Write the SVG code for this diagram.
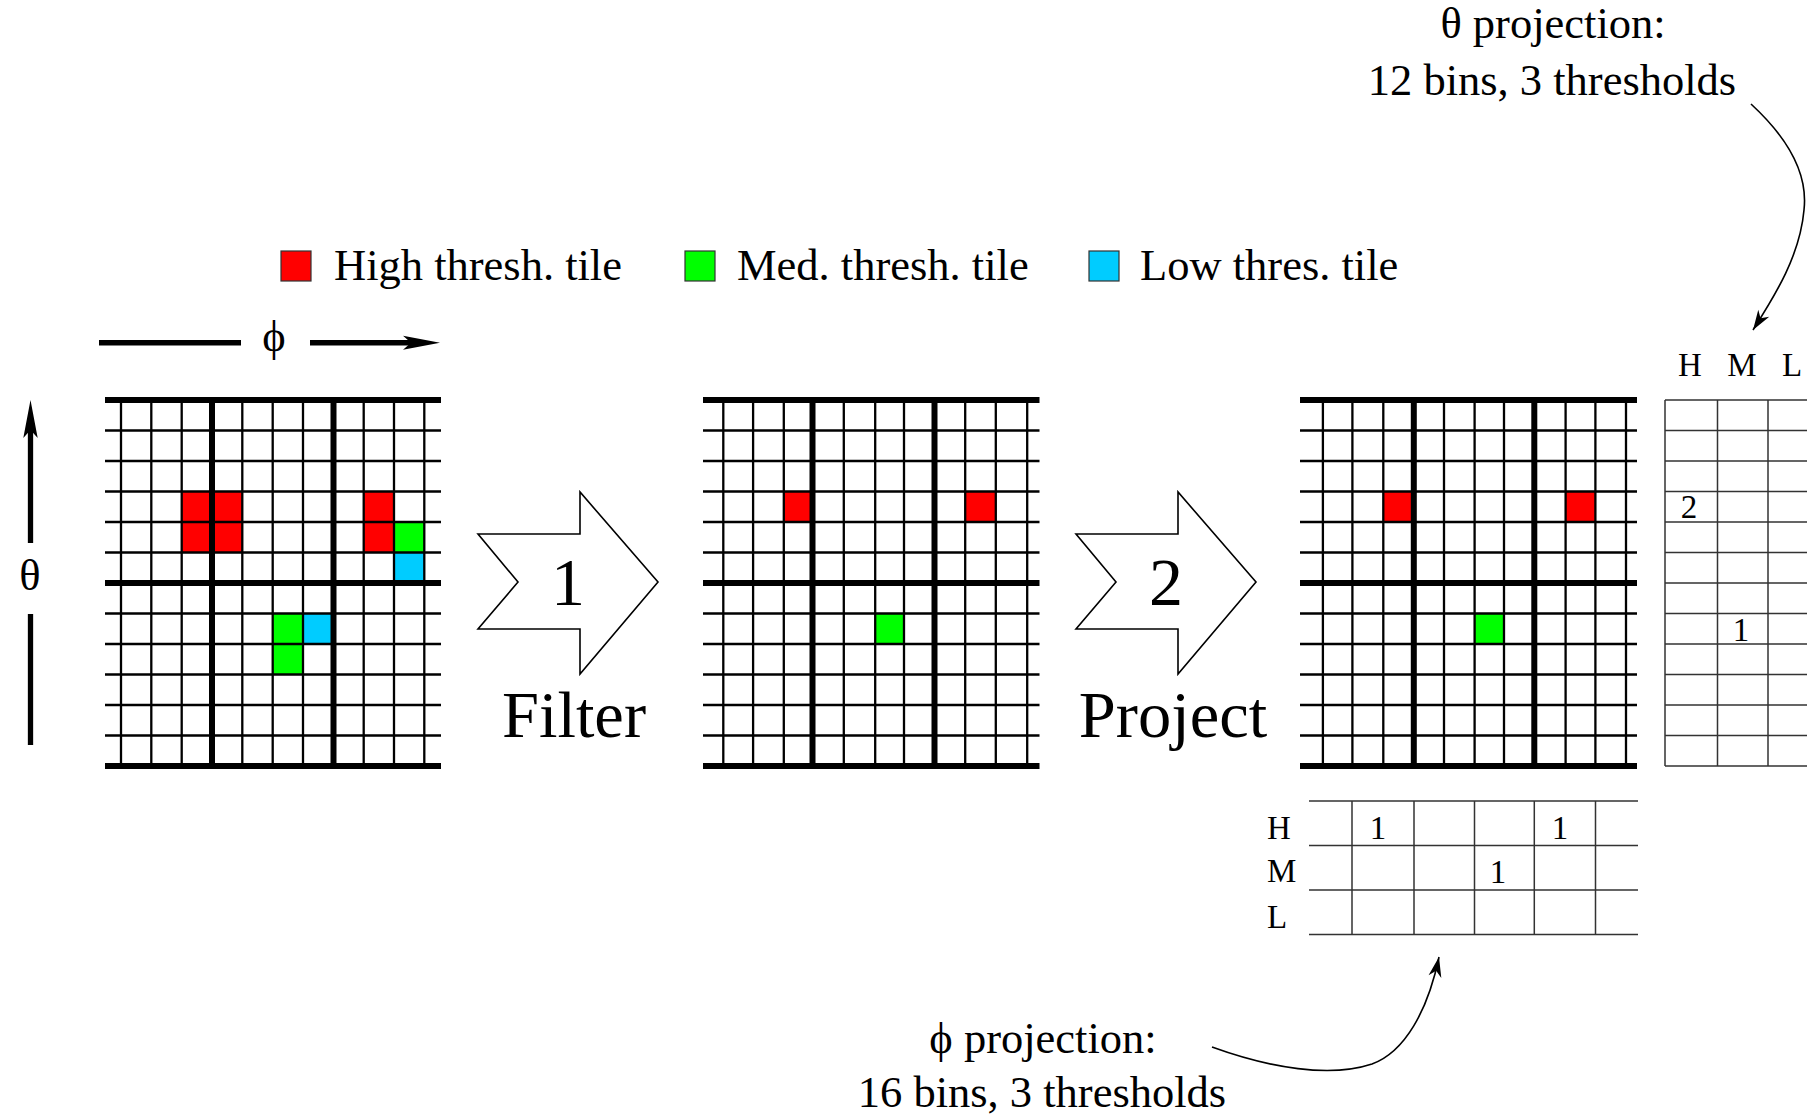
<svg xmlns="http://www.w3.org/2000/svg" width="1807" height="1118" viewBox="0 0 1807 1118">
<defs>
<style>
text{font-family:"Liberation Serif","Times New Roman",serif;fill:#000}
.lg{font-size:44.5px}
.big{font-size:66.5px}
.num{font-size:68px}
.tb{font-size:33px}
.thin{stroke:#000;stroke-width:2.3;fill:none}
.thick{stroke:#000;stroke-width:6;fill:none}
.tline{stroke:#333;stroke-width:1.5;fill:none}
.red{fill:#ff0000}
.grn{fill:#00ff00}
.blu{fill:#00ccff}
.step{fill:#fff;stroke:#000;stroke-width:1.6}
.curve{fill:none;stroke:#000;stroke-width:1.6}
</style>
<marker id="ah" markerUnits="userSpaceOnUse" viewBox="-21 -8 22 16" refX="0" refY="0" markerWidth="22" markerHeight="16" orient="auto">
<path d="M0,0 L-20,-6.5 L-14,0 L-20,6.5 Z" fill="#000"/>
</marker>
</defs>
<rect x="0" y="0" width="1807" height="1118" fill="#fff"/>

<g id="legend">
<rect class="red" x="281" y="251" width="30" height="30" stroke="#333" stroke-width="1.2"/>
<text class="lg" x="334" y="280">High thresh. tile</text>
<rect class="grn" x="685" y="251" width="30" height="30" stroke="#333" stroke-width="1.2"/>
<text class="lg" x="737" y="280">Med. thresh. tile</text>
<rect class="blu" x="1089" y="251" width="30" height="30" stroke="#333" stroke-width="1.2"/>
<text class="lg" x="1140" y="280">Low thres. tile</text>
</g>

<g id="axes">
<path d="M99 342.7H241 M310 342.7H414" stroke="#000" stroke-width="5.5" fill="none"/>
<polygon points="440,342.7 403,335.7 411,342.7 403,349.7" fill="#000"/>
<text class="lg" x="274" y="351" text-anchor="middle">ϕ</text>
<path d="M30.5 428V543 M30.5 614V745" stroke="#000" stroke-width="5.3" fill="none"/>
<polygon points="30.5,400 23.3,438 30.5,430 37.7,438" fill="#000"/>
<text class="lg" x="30" y="590" text-anchor="middle">θ</text>
</g>

<g id="grid1">
<rect class="red" x="181.7" y="491.5" width="60.6" height="61"/>
<rect class="red" x="363.7" y="491.5" width="30.3" height="61"/>
<rect class="grn" x="394" y="522" width="30.3" height="30.5"/>
<rect class="blu" x="394" y="552.5" width="30.3" height="30.5"/>
<rect class="grn" x="272.7" y="613.5" width="30.3" height="61"/>
<rect class="blu" x="303" y="613.5" width="30.5" height="30.5"/>
<path class="thin" d="M105 430.5H441M105 461H441M105 491.5H441M105 522H441M105 552.5H441M105 613.5H441M105 644H441M105 674.5H441M105 705H441M105 735.5H441M121 400V766M151.3 400V766M181.7 400V766M242.3 400V766M272.7 400V766M303 400V766M363.7 400V766M394 400V766M424.3 400V766"/>
<path class="thick" d="M105 400H441M105 583H441M105 766H441M212 400V766M333.5 400V766"/>
</g>

<g id="step1">
<polygon class="step" points="478,534 580,534 580,492 658,582 580,674 580,629 478,629 518,582"/>
<text class="num" x="568" y="605" text-anchor="middle">1</text>
<text class="big" x="574" y="737" text-anchor="middle">Filter</text>
</g>

<g id="grid2">
<rect class="red" x="783.8" y="491.5" width="28.7" height="30.5"/>
<rect class="red" x="965.2" y="491.5" width="30.6" height="30.5"/>
<rect class="grn" x="875.2" y="613.5" width="28.8" height="30.5"/>
<path class="thin" d="M703 430.5H1039.5M703 461H1039.5M703 491.5H1039.5M703 522H1039.5M703 552.5H1039.5M703 613.5H1039.5M703 644H1039.5M703 674.5H1039.5M703 705H1039.5M703 735.5H1039.5M723.3 400V766M753.1 400V766M783.8 400V766M843.8 400V766M875.2 400V766M904 400V766M965.2 400V766M995.8 400V766M1027.2 400V766"/>
<path class="thick" d="M703 400H1039.5M703 583H1039.5M703 766H1039.5M812.5 400V766M934.5 400V766"/>
</g>

<g id="step2">
<polygon class="step" points="1076,534 1178,534 1178,492 1256,582 1178,674 1178,629 1076,629 1116,582"/>
<text class="num" x="1166" y="605" text-anchor="middle">2</text>
<text class="big" x="1173" y="737" text-anchor="middle">Project</text>
</g>

<g id="grid3">
<rect class="red" x="1383.3" y="491.5" width="30.5" height="30.5"/>
<rect class="red" x="1565.6" y="491.5" width="29.8" height="30.5"/>
<rect class="grn" x="1474.6" y="613.5" width="29.4" height="30.5"/>
<path class="thin" d="M1300 430.5H1637M1300 461H1637M1300 491.5H1637M1300 522H1637M1300 552.5H1637M1300 613.5H1637M1300 644H1637M1300 674.5H1637M1300 705H1637M1300 735.5H1637M1322.9 400V766M1352.4 400V766M1383.3 400V766M1444 400V766M1474.6 400V766M1504 400V766M1565.6 400V766M1595.4 400V766M1626 400V766"/>
<path class="thick" d="M1300 400H1637M1300 583H1637M1300 766H1637M1413.8 400V766M1534.3 400V766"/>
</g>

<g id="theta-table">
<text class="tb" x="1690" y="376" text-anchor="middle">H</text>
<text class="tb" x="1742" y="376" text-anchor="middle">M</text>
<text class="tb" x="1792" y="376" text-anchor="middle">L</text>
<path class="tline" d="M1665 400H1820M1665 430.5H1820M1665 461H1820M1665 491.5H1820M1665 522H1820M1665 552.5H1820M1665 583H1820M1665 613.5H1820M1665 644H1820M1665 674.5H1820M1665 705H1820M1665 735.5H1820M1665 766H1820M1665 400V766M1717.5 400V766M1768 400V766"/>
<text class="tb" x="1689" y="518" text-anchor="middle">2</text>
<text class="tb" x="1741" y="641" text-anchor="middle">1</text>
</g>

<g id="phi-table">
<text class="tb" x="1267" y="839">H</text>
<text class="tb" x="1267" y="882">M</text>
<text class="tb" x="1267" y="928">L</text>
<path class="tline" d="M1309 801H1638M1309 845.5H1638M1309 890H1638M1309 934.5H1638M1352 801V934.5M1414 801V934.5M1474.5 801V934.5M1534.3 801V934.5M1595.5 801V934.5"/>
<text class="tb" x="1378" y="839" text-anchor="middle">1</text>
<text class="tb" x="1560" y="839" text-anchor="middle">1</text>
<text class="tb" x="1498" y="883" text-anchor="middle">1</text>
</g>

<g id="theta-label">
<text class="lg" x="1553" y="38" text-anchor="middle">θ projection:</text>
<text class="lg" x="1552" y="94.5" text-anchor="middle">12 bins, 3 thresholds</text>
</g>

<g id="phi-label">
<text class="lg" x="1043" y="1053" text-anchor="middle">ϕ projection:</text>
<text class="lg" x="1042" y="1107" text-anchor="middle">16 bins, 3 thresholds</text>
</g>

<g id="connectors">
<path class="curve" marker-end="url(#ah)" d="M1751 104 C1790 140 1808 175 1804 210 C1800 255 1776 294 1753 330"/>
<path class="curve" marker-end="url(#ah)" d="M1212 1047 C1270 1068 1330 1078 1372 1064 C1405 1052 1428 1010 1439 957"/>
</g>
</svg>
